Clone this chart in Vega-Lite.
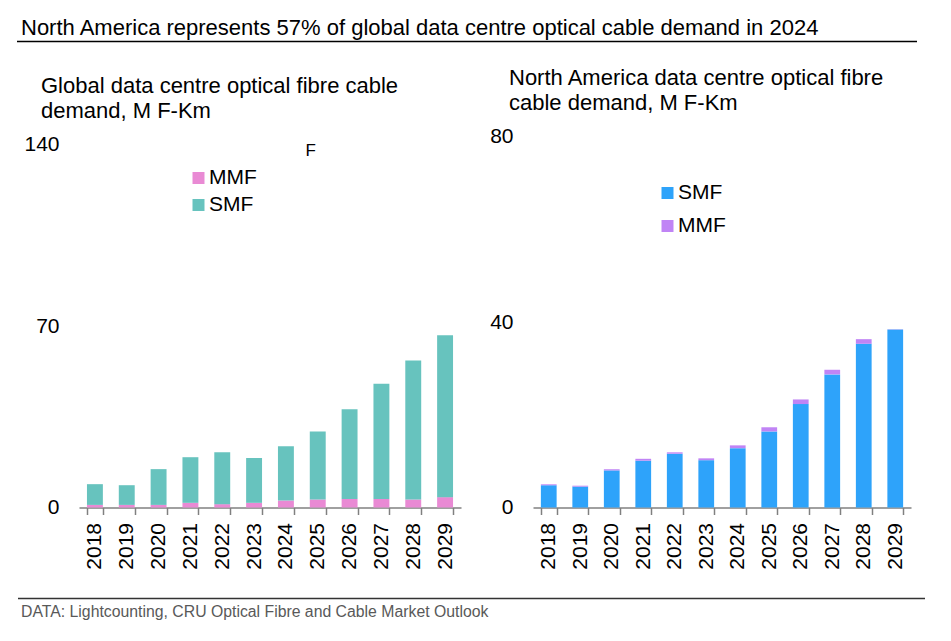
{
  "$schema": "https://vega.github.io/schema/vega-lite/v6.json",
  "padding": {"left": 16, "top": 16.5, "right": 5, "bottom": 5},
  "background": "white",
  "config": {
    "font": "Liberation Sans",
    "view": {"stroke": null},
    "axis": {"labelFont": "Liberation Sans"},
    "legend": {"labelFont": "Liberation Sans"}
  },
  "datasets": {
    "global": [
      {"year": "2018", "type": "MMF", "value": 1.0}, {"year": "2018", "type": "SMF", "value": 8.0},
      {"year": "2019", "type": "MMF", "value": 1.0}, {"year": "2019", "type": "SMF", "value": 7.6},
      {"year": "2020", "type": "MMF", "value": 1.0}, {"year": "2020", "type": "SMF", "value": 13.8},
      {"year": "2021", "type": "MMF", "value": 1.8}, {"year": "2021", "type": "SMF", "value": 17.6},
      {"year": "2022", "type": "MMF", "value": 1.3}, {"year": "2022", "type": "SMF", "value": 20.0},
      {"year": "2023", "type": "MMF", "value": 1.8}, {"year": "2023", "type": "SMF", "value": 17.3},
      {"year": "2024", "type": "MMF", "value": 2.7}, {"year": "2024", "type": "SMF", "value": 20.9},
      {"year": "2025", "type": "MMF", "value": 3.1}, {"year": "2025", "type": "SMF", "value": 26.2},
      {"year": "2026", "type": "MMF", "value": 3.3}, {"year": "2026", "type": "SMF", "value": 34.6},
      {"year": "2027", "type": "MMF", "value": 3.3}, {"year": "2027", "type": "SMF", "value": 44.4},
      {"year": "2028", "type": "MMF", "value": 3.1}, {"year": "2028", "type": "SMF", "value": 53.6},
      {"year": "2029", "type": "MMF", "value": 4.0}, {"year": "2029", "type": "SMF", "value": 62.4}
    ],
    "na": [
      {"year": "2018", "type": "SMF", "value": 4.8}, {"year": "2018", "type": "MMF", "value": 0.2},
      {"year": "2019", "type": "SMF", "value": 4.5}, {"year": "2019", "type": "MMF", "value": 0.2},
      {"year": "2020", "type": "SMF", "value": 8.0}, {"year": "2020", "type": "MMF", "value": 0.25},
      {"year": "2021", "type": "SMF", "value": 10.1}, {"year": "2021", "type": "MMF", "value": 0.4},
      {"year": "2022", "type": "SMF", "value": 11.6}, {"year": "2022", "type": "MMF", "value": 0.3},
      {"year": "2023", "type": "SMF", "value": 10.2}, {"year": "2023", "type": "MMF", "value": 0.4},
      {"year": "2024", "type": "SMF", "value": 12.8}, {"year": "2024", "type": "MMF", "value": 0.6},
      {"year": "2025", "type": "SMF", "value": 16.4}, {"year": "2025", "type": "MMF", "value": 0.9},
      {"year": "2026", "type": "SMF", "value": 22.3}, {"year": "2026", "type": "MMF", "value": 1.0},
      {"year": "2027", "type": "SMF", "value": 28.7}, {"year": "2027", "type": "MMF", "value": 1.0},
      {"year": "2028", "type": "SMF", "value": 35.3}, {"year": "2028", "type": "MMF", "value": 1.0},
      {"year": "2029", "type": "SMF", "value": 38.4}, {"year": "2029", "type": "MMF", "value": 0.05}
    ]
  },
  "spacing": 24,
  "vconcat": [
    {
      "width": 838,
      "height": 1,
      "title": {"text": "North America represents 57% of global data centre optical cable demand in 2024", "anchor": "start", "frame": "group", "fontSize": 22, "fontWeight": "normal", "color": "black", "offset": 0.5, "dx": -58},
      "data": {"values": [{"a": 0, "b": 1, "edge": 1}]},
      "mark": {"type": "rule", "color": "black", "strokeWidth": 1.5},
      "encoding": {
        "x": {"field": "a", "type": "quantitative", "scale": {"domain": [0, 1], "range": [-62, 838]}, "axis": null},
        "x2": {"field": "b"},
        "y": {"field": "edge", "type": "quantitative", "scale": {"domain": [0, 1]}, "axis": null}
      }
    },
    {
      "spacing": 28,
      "resolve": {"scale": {"color": "independent", "x": "independent", "y": "independent"}, "legend": {"color": "independent"}},
      "hconcat": [
        {
          "width": 382,
          "height": 371,
          "title": {"text": ["Global data centre optical fibre cable", "demand, M F-Km"], "anchor": "start", "frame": "group", "dx": -38, "fontSize": 22, "fontWeight": "normal", "color": "black", "lineHeight": 25, "offset": 11},
          "layer": [
            {
              "data": {"name": "global"},
              "mark": {"type": "bar"},
              "encoding": {
                "x": {"field": "year", "type": "nominal", "sort": "ascending", "scale": {"paddingInner": 0.5, "paddingOuter": 0.25},
                  "axis": {"title": null, "labelAngle": -90, "labelFontSize": 21, "labelColor": "black", "domainColor": "#808080", "domainWidth": 1.5, "tickColor": "#808080", "tickWidth": 1.5, "tickSize": 7, "tickBand": "extent", "labelPadding": 8, "grid": false}},
                "y": {"field": "value", "type": "quantitative", "stack": "zero", "scale": {"domain": [0, 143.1], "nice": false},
                  "axis": {"title": null, "values": [0, 70, 140], "domain": false, "ticks": false, "grid": false, "labelFontSize": 21, "labelColor": "black", "labelPadding": 20, "labelFlush": false}},
                "color": {"field": "type", "type": "nominal", "scale": {"domain": ["MMF", "SMF"], "range": ["#E98AD4", "#67C3BE"]},
                  "legend": {"title": null, "orient": "none", "legendX": 109, "legendY": 31, "labelFontSize": 21, "labelColor": "black", "symbolType": "square", "symbolSize": 144, "symbolStrokeWidth": 0, "rowPadding": 5, "labelOffset": 0, "padding": 0}},
                "order": {"field": "type", "sort": "ascending"}
              }
            },
            {
              "data": {"values": [{"year": "2025", "v": 137.5, "t": "F"}]},
              "mark": {"type": "text", "fontSize": 17, "dx": -7, "color": "black"},
              "encoding": {
                "x": {"field": "year", "type": "nominal"},
                "y": {"field": "v", "type": "quantitative"},
                "text": {"field": "t"}
              }
            }
          ]
        },
        {
          "width": 378,
          "height": 371,
          "title": {"text": ["North America data centre optical fibre", "cable demand, M F-Km"], "anchor": "start", "frame": "group", "dx": -24, "fontSize": 22, "fontWeight": "normal", "color": "black", "lineHeight": 25, "offset": 11},
          "data": {"name": "na"},
          "mark": {"type": "bar"},
          "encoding": {
            "x": {"field": "year", "type": "nominal", "sort": "ascending", "scale": {"paddingInner": 0.5, "paddingOuter": 0.25},
              "axis": {"title": null, "labelAngle": -90, "labelFontSize": 21, "labelColor": "black", "domainColor": "#808080", "domainWidth": 1.5, "tickColor": "#808080", "tickWidth": 1.5, "tickSize": 7, "tickBand": "extent", "labelPadding": 8, "grid": false}},
            "y": {"field": "value", "type": "quantitative", "stack": "zero", "scale": {"domain": [0, 80], "nice": false},
              "axis": {"title": null, "values": [0, 40, 80], "domain": false, "ticks": false, "grid": false, "labelFontSize": 21, "labelColor": "black", "labelPadding": 20, "labelFlush": false}},
            "color": {"field": "type", "type": "nominal", "scale": {"domain": ["SMF", "MMF"], "range": ["#2EA3FA", "#C084F5"]},
              "legend": {"title": null, "orient": "none", "legendX": 124, "legendY": 46, "labelFontSize": 21, "labelColor": "black", "symbolType": "square", "symbolSize": 144, "symbolStrokeWidth": 0, "rowPadding": 11, "labelOffset": 0, "padding": 0}},
            "order": {"field": "type", "sort": "descending"}
          }
        }
      ]
    },
    {
      "width": 846,
      "height": 5,
      "title": {"text": "DATA: Lightcounting, CRU Optical Fibre and Cable Market Outlook", "orient": "bottom", "anchor": "start", "frame": "group", "fontSize": 15.8, "fontWeight": "normal", "color": "#595959", "offset": 6, "dx": -58},
      "data": {"values": [{"a": 0, "b": 1, "edge": 0}]},
      "mark": {"type": "rule", "color": "#333333", "strokeWidth": 1.5},
      "encoding": {
        "x": {"field": "a", "type": "quantitative", "scale": {"domain": [0, 1], "range": [-61, 846]}, "axis": null},
        "x2": {"field": "b"},
        "y": {"field": "edge", "type": "quantitative", "scale": {"domain": [0, 1]}, "axis": null}
      }
    }
  ]
}
